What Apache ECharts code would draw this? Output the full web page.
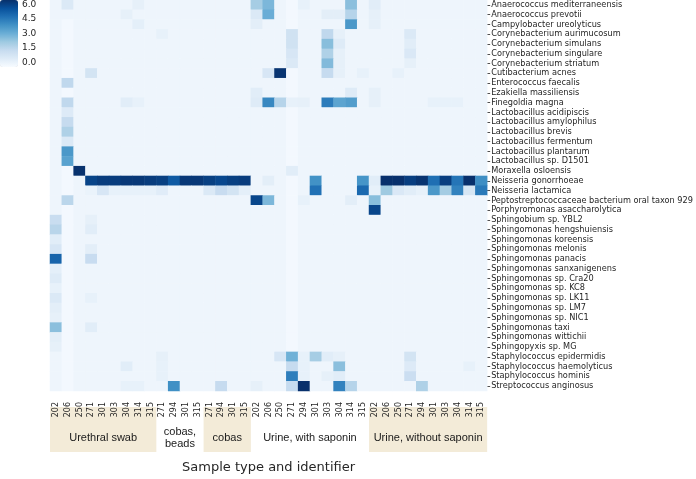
<!DOCTYPE html>
<html><head><meta charset="utf-8">
<script src="https://cdn.jsdelivr.net/npm/echarts@6/dist/echarts.min.js"></script>
<style>html,body{margin:0;padding:0;background:#fff}#c{width:696px;height:479px}</style>
</head><body><div id="c"></div>
<script>
const species = ["Anaerococcus mediterraneensis","Anaerococcus prevotii","Campylobacter ureolyticus","Corynebacterium aurimucosum","Corynebacterium simulans","Corynebacterium singulare","Corynebacterium striatum","Cutibacterium acnes","Enterococcus faecalis","Ezakiella massiliensis","Finegoldia magna","Lactobacillus acidipiscis","Lactobacillus amylophilus","Lactobacillus brevis","Lactobacillus fermentum","Lactobacillus plantarum","Lactobacillus sp. D1501","Moraxella osloensis","Neisseria gonorrhoeae","Neisseria lactamica","Peptostreptococcaceae bacterium oral taxon 929","Porphyromonas asaccharolytica","Sphingobium sp. YBL2","Sphingomonas hengshuiensis","Sphingomonas koreensis","Sphingomonas melonis","Sphingomonas panacis","Sphingomonas sanxanigenens","Sphingomonas sp. Cra20","Sphingomonas sp. KC8","Sphingomonas sp. LK11","Sphingomonas sp. LM7","Sphingomonas sp. NIC1","Sphingomonas taxi","Sphingomonas wittichii","Sphingopyxis sp. MG","Staphylococcus epidermidis","Staphylococcus haemolyticus","Staphylococcus hominis","Streptococcus anginosus"];
const sampleIds = ["202","206","250","271","301","303","304","314","315","271","294","301","315","271","294","301","315","202","206","250","271","294","301","303","304","314","315","202","206","250","271","294","301","303","304","314","315"];
const groupNames = ["Urethral swab","cobas,\nbeads","cobas","Urine, with saponin","Urine, without saponin"];
const groupSizes = [9,4,4,10,10];
const groupShaded = [true,false,true,false,true];
const colorTicks = [0,1.5,3,4.5,6];
const colorMin = -0.45, colorMax = 6.41;
const blues = ["#f7fbff","#deebf7","#c6dbef","#9ecae1","#6baed6","#4292c6","#2171b5","#08519c","#08306b"];
const bg = -0.15, wh = -0.3;
// one row per species, one value per sample (37)
const values = [
[bg,0.5,bg,bg,bg,bg,bg,0.15,bg,bg, bg,bg,bg,bg,bg,bg,bg,1.95,2.7,bg, wh,0.1,bg,bg,bg,2.45,bg,0.3,bg,bg, bg,bg,bg,bg,bg,bg,bg],
[bg,bg,bg,bg,bg,bg,0.15,bg,bg,bg, bg,bg,bg,bg,bg,bg,bg,0.5,3.0,bg, wh,bg,bg,0.25,0.25,1.6,bg,0.15,bg,bg, bg,bg,bg,bg,bg,bg,bg],
[bg,wh,bg,bg,bg,bg,bg,0.2,bg,bg, bg,bg,bg,bg,bg,bg,bg,0.25,bg,bg, wh,bg,bg,bg,bg,3.65,bg,0.15,bg,bg, bg,bg,bg,bg,bg,bg,bg],
[bg,wh,bg,bg,bg,bg,bg,bg,bg,0.1, bg,bg,bg,bg,bg,bg,bg,bg,bg,bg, 0.9,bg,bg,1.4,0.15,bg,bg,bg,bg,bg, 0.5,bg,bg,bg,bg,bg,bg],
[bg,wh,bg,bg,bg,bg,bg,bg,bg,bg, bg,bg,bg,bg,bg,bg,bg,bg,bg,bg, 0.9,bg,bg,2.5,0.4,bg,bg,bg,bg,bg, 0.3,bg,bg,bg,bg,bg,bg],
[bg,wh,bg,bg,bg,bg,bg,bg,bg,bg, bg,bg,bg,bg,bg,bg,bg,bg,bg,bg, 0.65,bg,bg,1.75,0.15,bg,bg,bg,bg,bg, 0.55,bg,bg,bg,bg,bg,bg],
[bg,wh,bg,bg,bg,bg,bg,bg,bg,bg, bg,bg,bg,bg,bg,bg,bg,bg,bg,bg, 0.5,bg,bg,2.6,0.15,bg,bg,bg,bg,bg, 0.15,bg,bg,bg,bg,bg,bg],
[bg,wh,bg,0.8,bg,bg,bg,bg,bg,bg, bg,bg,bg,bg,bg,bg,bg,bg,0.65,6.3, wh,bg,bg,1.27,0.15,bg,0.1,bg,bg,0.1, bg,bg,bg,bg,bg,bg,bg],
[bg,1.4,bg,bg,bg,bg,bg,bg,bg,bg, bg,bg,bg,bg,bg,bg,bg,bg,bg,bg, wh,bg,bg,bg,bg,bg,bg,bg,bg,bg, bg,bg,bg,bg,bg,bg,bg],
[bg,wh,bg,bg,bg,bg,bg,bg,bg,bg, bg,bg,bg,bg,bg,bg,bg,0.3,bg,bg, wh,bg,bg,bg,bg,0.4,bg,0.15,bg,bg, bg,bg,bg,bg,bg,bg,bg],
[bg,1.4,bg,bg,bg,bg,0.3,0.1,bg,bg, bg,bg,bg,bg,bg,bg,bg,0.4,4.1,1.6, 0.1,0.15,bg,4.4,3.3,3.5,bg,0.15,bg,bg, bg,bg,0.1,0.1,0.1,bg,bg],
[bg,0.45,bg,bg,bg,bg,bg,bg,bg,bg, bg,bg,bg,bg,bg,bg,bg,bg,bg,bg, wh,bg,bg,bg,bg,bg,bg,bg,bg,bg, bg,bg,bg,bg,bg,bg,bg],
[bg,1.27,bg,bg,bg,bg,bg,bg,bg,bg, bg,bg,bg,bg,bg,bg,bg,bg,bg,bg, wh,bg,bg,bg,bg,bg,bg,bg,bg,bg, bg,bg,bg,bg,bg,bg,bg],
[bg,1.75,bg,bg,bg,bg,bg,bg,bg,bg, bg,bg,bg,bg,bg,bg,bg,bg,bg,bg, wh,bg,bg,bg,bg,bg,bg,bg,bg,bg, bg,bg,bg,bg,bg,bg,bg],
[bg,0.5,bg,bg,bg,bg,bg,bg,bg,bg, bg,bg,bg,bg,bg,bg,bg,bg,bg,bg, wh,bg,bg,bg,bg,bg,bg,bg,bg,bg, bg,bg,bg,bg,bg,bg,bg],
[bg,3.65,bg,bg,bg,bg,bg,bg,bg,bg, bg,bg,bg,bg,bg,bg,bg,bg,bg,bg, wh,bg,bg,bg,bg,bg,bg,bg,bg,bg, bg,bg,bg,bg,bg,bg,bg],
[bg,3.35,bg,bg,bg,bg,bg,bg,bg,bg, bg,bg,bg,bg,bg,bg,bg,bg,bg,bg, wh,bg,bg,bg,bg,bg,bg,bg,bg,bg, bg,bg,bg,bg,bg,bg,bg],
[bg,wh,6.35,bg,bg,bg,bg,bg,bg,bg, bg,bg,bg,bg,bg,bg,bg,bg,bg,bg, 0.3,bg,bg,bg,bg,bg,bg,bg,bg,bg, bg,bg,bg,bg,bg,bg,bg],
[bg,wh,bg,5.9,6.1,6.1,6.2,6.2,6.1,6.0, 5.3,6.2,6.2,6.0,5.8,6.0,6.1,bg,0.25,bg, wh,bg,3.84,bg,bg,bg,3.75,0.3,6.4,6.4, 6.05,6.3,4.75,6.05,4.6,6.4,3.95],
[bg,wh,bg,0,0.65,0.1,0.1,0.1,0.1,0.35, bg,bg,bg,0.5,1.2,0.8,0.2,bg,bg,bg, wh,bg,4.7,bg,bg,bg,4.9,0.1,2.1,0.55, 0.3,0.1,3.65,2.0,4.25,0.7,4.5],
[bg,1.5,bg,bg,bg,bg,bg,bg,bg,bg, bg,bg,bg,bg,bg,bg,bg,5.85,2.7,bg, wh,0.1,bg,bg,bg,0.25,bg,2.5,bg,bg, bg,bg,bg,bg,bg,bg,bg],
[bg,wh,bg,bg,bg,bg,bg,bg,bg,bg, bg,bg,bg,bg,bg,bg,bg,bg,bg,bg, wh,bg,bg,bg,bg,bg,bg,5.85,bg,bg, bg,bg,bg,bg,bg,bg,bg],
[1.15,wh,bg,0.15,bg,bg,bg,bg,bg,bg, bg,bg,bg,bg,bg,bg,bg,bg,bg,bg, wh,bg,bg,bg,bg,bg,bg,bg,bg,bg, bg,bg,bg,bg,bg,bg,bg],
[1.55,wh,bg,0.3,bg,bg,bg,bg,bg,bg, bg,bg,bg,bg,bg,bg,bg,bg,bg,bg, wh,bg,bg,bg,bg,bg,bg,bg,bg,bg, bg,bg,bg,bg,bg,bg,bg],
[0.3,wh,bg,bg,bg,bg,bg,bg,bg,bg, bg,bg,bg,bg,bg,bg,bg,bg,bg,bg, wh,bg,bg,bg,bg,bg,bg,bg,bg,bg, bg,bg,bg,bg,bg,bg,bg],
[0.65,wh,bg,0.25,bg,bg,bg,bg,bg,bg, bg,bg,bg,bg,bg,bg,bg,bg,bg,bg, wh,bg,bg,bg,bg,bg,bg,bg,bg,bg, bg,bg,bg,bg,bg,bg,bg],
[5.05,wh,bg,1.2,bg,bg,bg,bg,bg,bg, bg,bg,bg,bg,bg,bg,bg,bg,bg,bg, wh,bg,bg,bg,bg,bg,bg,bg,bg,bg, bg,bg,bg,bg,bg,bg,bg],
[0.2,wh,bg,bg,bg,bg,bg,bg,bg,bg, bg,bg,bg,bg,bg,bg,bg,bg,bg,bg, wh,bg,bg,bg,bg,bg,bg,bg,bg,bg, bg,bg,bg,bg,bg,bg,bg],
[0.4,wh,bg,bg,bg,bg,bg,bg,bg,bg, bg,bg,bg,bg,bg,bg,bg,bg,bg,bg, wh,bg,bg,bg,bg,bg,bg,bg,bg,bg, bg,bg,bg,bg,bg,bg,bg],
[0.1,wh,bg,bg,bg,bg,bg,bg,bg,bg, bg,bg,bg,bg,bg,bg,bg,bg,bg,bg, wh,bg,bg,bg,bg,bg,bg,bg,bg,bg, bg,bg,bg,bg,bg,bg,bg],
[0.5,wh,bg,0.1,bg,bg,bg,bg,bg,bg, bg,bg,bg,bg,bg,bg,bg,bg,bg,bg, wh,bg,bg,bg,bg,bg,bg,bg,bg,bg, bg,bg,bg,bg,bg,bg,bg],
[0.25,wh,bg,bg,bg,bg,bg,bg,bg,bg, bg,bg,bg,bg,bg,bg,bg,bg,bg,bg, wh,bg,bg,bg,bg,bg,bg,bg,bg,bg, bg,bg,bg,bg,bg,bg,bg],
[0.15,wh,bg,bg,bg,bg,bg,bg,bg,bg, bg,bg,bg,bg,bg,bg,bg,bg,bg,bg, wh,bg,bg,bg,bg,bg,bg,bg,bg,bg, bg,bg,bg,bg,bg,bg,bg],
[2.45,wh,bg,0.3,bg,bg,bg,bg,bg,bg, bg,bg,bg,bg,bg,bg,bg,bg,bg,bg, wh,bg,bg,bg,bg,bg,bg,bg,bg,bg, bg,bg,bg,bg,bg,bg,bg],
[0.25,wh,bg,bg,bg,bg,bg,bg,bg,bg, bg,bg,bg,bg,bg,bg,bg,bg,bg,bg, wh,bg,bg,bg,bg,bg,bg,bg,bg,bg, bg,bg,bg,bg,bg,bg,bg],
[0.15,wh,bg,bg,bg,bg,bg,bg,bg,bg, bg,bg,bg,bg,bg,bg,bg,bg,bg,bg, wh,bg,bg,bg,bg,bg,bg,bg,bg,bg, bg,bg,bg,bg,bg,bg,bg],
[bg,wh,bg,bg,bg,bg,bg,bg,bg,0.15, bg,bg,bg,bg,bg,bg,bg,bg,bg,0.65, 2.9,0.1,1.95,0.3,0.15,bg,bg,bg,bg,bg, 0.8,bg,bg,bg,bg,bg,bg],
[bg,wh,bg,bg,bg,bg,0.3,bg,bg,0.1, bg,bg,bg,bg,bg,bg,bg,bg,bg,bg, 1.27,0.1,bg,bg,2.45,bg,bg,bg,bg,bg, 0.45,bg,bg,bg,bg,0.1,bg],
[bg,wh,bg,bg,bg,bg,bg,bg,bg,0.1, bg,bg,bg,bg,bg,bg,bg,bg,bg,bg, 4.35,0.1,bg,0.15,0.3,bg,bg,bg,bg,bg, 1.1,bg,bg,bg,bg,bg,bg],
[bg,wh,bg,bg,bg,bg,0.1,0.1,bg,bg, 3.9,bg,bg,bg,1.27,bg,bg,0.15,bg,bg, 1.27,6.4,bg,bg,4.25,1.6,bg,bg,bg,bg, bg,1.75,bg,bg,bg,bg,bg]
];

if (values.length !== species.length) throw new Error('rows ' + values.length);
values.forEach((r, i) => { if (r.length !== sampleIds.length) throw new Error('row ' + i + ' len ' + r.length); });

const cells = [];
values.forEach((row, y) => row.forEach((v, x) => cells.push([x, y, v])));

const txt = '#262626';
const chart = echarts.init(document.getElementById('c'), null, {renderer: 'canvas'});
chart.setOption({
  animation: false,
  grid: [
    {left: 50, top: 0, width: 438, height: 397},
    {left: 0, top: 0, width: 18, height: 67}
  ],
  xAxis: [
    {type: 'category', data: sampleIds, gridIndex: 0, position: 'bottom',
     axisLine: {show: false}, axisTick: {show: false}, splitLine: {show: false},
     axisLabel: {rotate: 90, interval: 0, fontSize: 8, fontFamily: 'DejaVu Sans', color: txt, margin: 11},
     name: 'Sample type and identifier', nameLocation: 'middle', nameGap: 70,
     nameTextStyle: {fontSize: 13, fontFamily: 'DejaVu Sans', color: txt}},
    {type: 'value', gridIndex: 1, show: false}
  ],
  yAxis: [
    {type: 'category', data: species, gridIndex: 0, inverse: true, position: 'right',
     axisLine: {show: false}, splitLine: {show: false},
     axisTick: {show: true, length: 3, alignWithLabel: true, lineStyle: {color: txt, width: 0.8}},
     axisLabel: {interval: 0, fontSize: 8.2, fontFamily: 'DejaVu Sans', color: txt, margin: 4}},
    {type: 'value', gridIndex: 1, position: 'right', min: colorMin, max: colorMax,
     axisLine: {show: false}, splitLine: {show: false},
     axisTick: {show: true, length: 3, customValues: colorTicks, lineStyle: {color: txt, width: 0.8}},
     axisLabel: {customValues: colorTicks, fontSize: 9, fontFamily: 'DejaVu Sans', color: txt, margin: 4,
       formatter: v => Number(v).toFixed(1)}}
  ],
  visualMap: {
    type: 'continuous', seriesIndex: 0, dimension: 2, min: colorMin, max: colorMax,
    left: 0, top: 0, itemWidth: 18, itemHeight: 67, padding: 0, calculable: false,
    orient: 'vertical', inRange: {color: blues}, hoverLink: false
  },
  series: [{
    type: 'heatmap', xAxisIndex: 0, yAxisIndex: 0, data: cells,
    emphasis: {disabled: true}, progressive: 0
  }]
});

// sample-group boxes and labels below the x axis labels
const graphics = [];
let start = 0;
const half = (chart.convertToPixel({xAxisIndex: 0}, 1) - chart.convertToPixel({xAxisIndex: 0}, 0)) / 2;
groupNames.forEach((name, g) => {
  const end = start + groupSizes[g] - 1;
  const x0 = chart.convertToPixel({xAxisIndex: 0}, start) - half;
  const x1 = chart.convertToPixel({xAxisIndex: 0}, end) + half;
  if (groupShaded[g]) {
    graphics.push({type: 'rect', z: -10, silent: true,
      shape: {x: x0, y: 407, width: x1 - x0, height: 45},
      style: {fill: '#f3ebd8'}});
  }
  graphics.push({type: 'text', z: 10, silent: true, x: (x0 + x1) / 2, y: 438,
    style: {text: name, fill: '#1a1a1a', font: '11px "Liberation Sans", Arial, sans-serif',
      align: 'center', verticalAlign: 'middle', lineHeight: 11.5}});
  start = end + 1;
});
chart.setOption({graphic: graphics});
</script>
</body></html>
